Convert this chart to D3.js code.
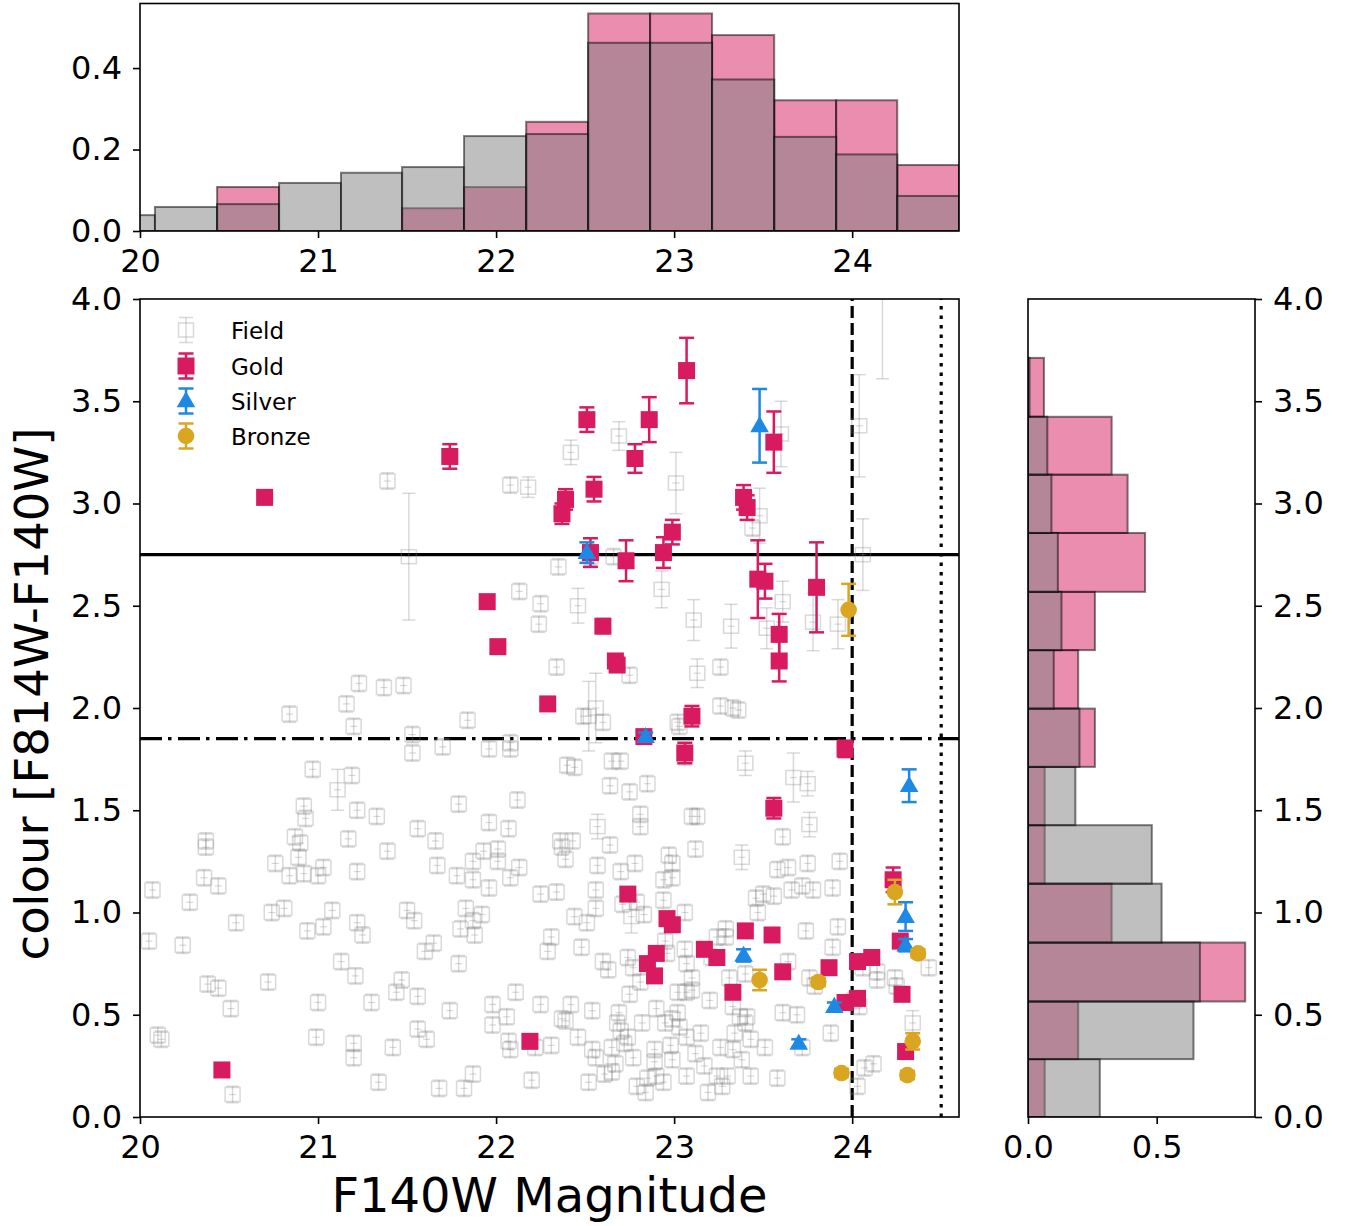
<!DOCTYPE html>
<html><head><meta charset="utf-8">
<script src="https://cdn.jsdelivr.net/npm/d3@7"></script>
<style>body{margin:0;background:#fff}svg{display:block;font-family:"DejaVu Sans",sans-serif}</style>
</head><body><svg id="c" width="1352" height="1226"></svg>
<script>
// ---------- data ----------
const magTicks=[20,21,22,23,24];
const colTicks=[0,0.5,1,1.5,2,2.5,3,3.5,4];
const topHistTicks=[0,0.2,0.4];
const rightHistTicks=[0,0.5];
const legendLabels=["Field","Gold","Silver","Bronze"];
const colourCut=2.75, colourCut2=1.85, magLimit=24.0, magLimit2=24.5;

const magEdges=[19.736,20.084,20.433,20.781,21.129,21.472,21.82,22.169,22.517,22.865,23.213,23.562,23.91,24.253,24.6];
const fieldMagHist=[0.039,0.059,0.066,0.118,0.143,0.157,0.233,0.238,0.462,0.462,0.372,0.231,0.188,0.086];
const goldMagHist=[0,0,0.108,0,0,0.056,0.108,0.268,0.534,0.534,0.481,0.321,0.321,0.162];
const colEdges=[0,0.283,0.565,0.853,1.141,1.427,1.712,1.997,2.283,2.568,2.856,3.141,3.424,3.712];
const fieldColHist=[0.279,0.643,0.668,0.519,0.481,0.184,0.2,0.1,0.13,0.116,0.091,0.075,0.006];
const goldColHist=[0.065,0.195,0.844,0.325,0.065,0.065,0.26,0.195,0.26,0.455,0.387,0.325,0.062];

// [magnitude, colour, colour error]
const fieldPoints=[
[20.84,1.97,0.04],[21.16,2.02,0.04],[21.20,1.91,0.04],[21.84,1.94,0.04],[21.53,1.87,0.04],[21.53,1.78,0.04],[21.70,1.81,0.04],[21.96,1.80,0.04],[22.08,1.80,0.04],[22.08,1.83,0.04],
[20.97,1.70,0.04],[21.11,1.60,0.1],[21.19,1.67,0.04],[20.92,1.52,0.04],[20.93,1.46,0.04],[21.22,1.50,0.04],[21.33,1.47,0.04],[21.56,1.41,0.04],[21.79,1.53,0.04],[22.12,1.55,0.04],[21.96,1.44,0.04],[22.07,1.41,0.04],
[20.37,1.35,0.04],[20.37,1.32,0.04],[20.87,1.37,0.04],[20.90,1.34,0.04],[21.17,1.36,0.04],[21.39,1.30,0.04],[21.66,1.35,0.04],[22.37,1.32,0.04],
[20.89,1.27,0.04],[20.76,1.24,0.04],[20.84,1.18,0.04],[20.92,1.19,0.04],[21.00,1.18,0.04],[21.03,1.22,0.04],[21.22,1.20,0.04],[21.67,1.23,0.04],[21.78,1.18,0.04],[21.87,1.25,0.04],[21.87,1.16,0.04],[21.93,1.30,0.04],[22.01,1.31,0.04],[22.01,1.25,0.04],[22.08,1.17,0.04],[22.13,1.22,0.04],[21.96,1.12,0.04],
[20.36,1.17,0.04],[20.44,1.13,0.04],[20.07,1.11,0.04],[20.28,1.05,0.04],[22.25,1.09,0.04],[22.34,1.10,0.04],
[20.74,1.00,0.04],[20.81,1.02,0.04],[21.08,1.01,0.04],[20.54,0.95,0.04],[20.94,0.91,0.04],[21.03,0.93,0.04],[21.22,0.95,0.04],[21.25,0.89,0.04],[21.50,1.01,0.04],[21.54,0.96,0.04],[21.83,1.02,0.04],[21.92,0.99,0.04],[21.87,0.96,0.04],[21.80,0.92,0.04],[21.88,0.89,0.04],
[20.05,0.86,0.04],[20.24,0.84,0.04],[22.31,0.88,0.04],[22.29,0.81,0.04],[21.13,0.76,0.04],[21.21,0.69,0.04],[21.65,0.85,0.04],[21.60,0.81,0.04],[21.79,0.75,0.04],
[20.38,0.65,0.04],[20.44,0.63,0.04],[20.72,0.66,0.04],[21.47,0.67,0.04],[21.44,0.61,0.04],[21.56,0.59,0.04],[21.00,0.56,0.04],[21.30,0.56,0.04],[21.74,0.52,0.04],[21.98,0.55,0.04],[22.11,0.61,0.04],[22.25,0.55,0.04],[20.51,0.53,0.04],[22.06,0.49,0.04],[21.98,0.45,0.04],[22.37,0.48,0.04],
[20.10,0.40,0.04],[20.12,0.38,0.04],[20.99,0.39,0.04],[21.56,0.43,0.04],[21.61,0.38,0.04],[21.20,0.36,0.04],[21.20,0.29,0.04],[21.42,0.34,0.04],[22.07,0.37,0.04],[22.08,0.33,0.04],[22.31,0.35,0.04],[22.22,0.34,0.04],
[20.52,0.11,0.04],[21.34,0.17,0.04],[21.68,0.14,0.04],[21.82,0.14,0.04],[21.87,0.21,0.04],[22.20,0.18,0.04],
[21.39,3.11,0.04],[22.08,3.09,0.04],[22.18,3.08,0.05],[21.51,2.74,0.31],[22.13,2.57,0.04],[22.25,2.51,0.04],[22.24,2.41,0.04],[22.34,2.20,0.04],[21.37,2.10,0.04],[21.48,2.11,0.04],[21.23,2.12,0.04],
[22.42,3.25,0.06],[22.69,3.33,0.07],[23.01,3.10,0.15],[23.60,3.34,0.16],[24.04,3.38,0.25],[24.17,4.15,0.54],
[22.35,2.69,0.04],[22.46,2.50,0.085],[22.93,2.58,0.09],[22.66,2.74,0.04],[22.53,2.74,0.04],[22.75,2.16,0.04],[22.52,1.96,0.17],[22.56,2.00,0.17],[22.60,1.93,0.04],[23.02,1.93,0.04],[22.49,1.96,0.04],
[23.48,2.94,0.135],[23.44,2.88,0.04],[24.06,2.75,0.175],
[23.11,2.43,0.1],[23.32,2.40,0.107],[23.61,2.52,0.1],[23.78,2.42,0.14],[23.92,2.41,0.12],[23.52,2.39,0.1],[22.60,2.40,0.04],[23.13,2.17,0.07],[23.26,2.20,0.04],[23.26,2.01,0.04],[23.33,2.00,0.04],[23.36,1.99,0.04],[23.03,1.91,0.04],
[22.40,1.72,0.04],[22.44,1.71,0.04],[22.65,1.74,0.04],[22.70,1.74,0.04],[22.64,1.62,0.04],[22.75,1.59,0.04],[22.85,1.63,0.04],[23.06,1.76,0.04],[23.40,1.73,0.06],[23.67,1.66,0.12],[23.75,1.63,0.06],[22.57,1.42,0.06],[22.81,1.48,0.04],[22.81,1.42,0.04],[23.10,1.47,0.04],[23.13,1.47,0.04],[23.76,1.43,0.06],[22.36,1.35,0.04],[22.43,1.35,0.04],[23.61,1.37,0.04],
[22.39,1.26,0.04],[22.64,1.33,0.04],[22.97,1.28,0.04],[22.99,1.24,0.04],[23.12,1.31,0.04],[23.38,1.27,0.06],[22.57,1.23,0.04],[22.70,1.20,0.04],[22.78,1.24,0.04],[22.94,1.16,0.04],[22.99,1.17,0.04],
[22.56,1.11,0.04],[22.71,1.04,0.04],[22.79,1.05,0.04],[22.83,0.99,0.04],[22.94,1.06,0.04],[23.06,1.00,0.04],[22.44,0.98,0.04],[22.51,0.95,0.04],[22.56,1.02,0.04],[22.76,0.98,0.08],
[22.48,0.83,0.04],[22.60,0.76,0.04],[22.63,0.72,0.04],[22.74,0.78,0.04],[22.77,0.73,0.04],[22.95,0.86,0.04],[22.96,0.80,0.04],[23.06,0.82,0.04],[23.07,0.75,0.04],[23.10,0.68,0.04],[23.10,0.62,0.04],[23.02,0.61,0.04],[23.07,0.61,0.04],[23.21,0.78,0.04],[23.29,0.88,0.04],[23.29,0.92,0.04],[23.24,0.88,0.04],[23.31,0.68,0.04],[22.81,0.66,0.04],[22.75,0.60,0.04],
[22.42,0.55,0.04],[22.39,0.47,0.04],[22.54,0.52,0.04],[22.69,0.51,0.04],[22.68,0.46,0.04],[22.82,0.46,0.04],[22.90,0.53,0.04],[22.99,0.48,0.04],[23.02,0.51,0.04],[23.20,0.57,0.04],[23.33,0.54,0.04],[23.37,0.49,0.04],[23.41,0.49,0.04],
[22.70,0.42,0.04],[22.74,0.39,0.04],[22.95,0.46,0.04],[23.03,0.44,0.04],[23.07,0.39,0.04],[23.15,0.41,0.04],[23.34,0.41,0.04],
[22.46,0.39,0.04],[22.54,0.33,0.04],[22.56,0.29,0.04],[22.65,0.34,0.04],[22.67,0.26,0.04],[22.72,0.36,0.04],[22.77,0.29,0.04],[22.89,0.33,0.04],[22.98,0.35,0.04],[22.99,0.28,0.04],[23.12,0.31,0.04],[23.17,0.25,0.04],[23.26,0.34,0.04],[23.33,0.33,0.04],[23.38,0.28,0.04],
[22.52,0.17,0.04],[22.61,0.21,0.04],[22.65,0.22,0.04],[22.79,0.15,0.04],[22.84,0.12,0.04],[22.89,0.27,0.04],[22.90,0.20,0.04],[22.94,0.17,0.04],[23.07,0.20,0.04],[23.19,0.12,0.04],[23.24,0.20,0.04],[23.27,0.15,0.04],[23.30,0.20,0.04],[22.85,0.19,0.04],
[23.58,1.21,0.04],[23.64,1.22,0.04],[23.75,1.24,0.04],[23.93,1.25,0.04],[23.66,1.11,0.04],[23.72,1.13,0.04],[23.78,1.11,0.04],[23.89,1.12,0.04],[23.46,1.07,0.04],[23.50,1.09,0.04],[23.56,1.08,0.04],[23.47,1.00,0.04],[23.74,0.91,0.04],[23.92,0.93,0.04],[23.89,0.83,0.04],[23.64,0.76,0.04],[23.40,0.70,0.04],[23.76,0.68,0.04],[23.79,0.64,0.04],
[24.06,0.73,0.04],[24.14,0.71,0.04],[24.14,0.67,0.04],[24.24,0.68,0.04],[24.25,0.64,0.04],[24.43,0.73,0.04],[24.04,0.54,0.04],[24.01,0.57,0.04],[23.61,0.51,0.04],[23.69,0.50,0.04],[23.40,0.46,0.04],[23.43,0.38,0.04],[23.51,0.34,0.04],[23.88,0.41,0.04],[24.34,0.46,0.06],[23.72,0.34,0.04],[24.07,0.24,0.04],[24.12,0.26,0.04],[24.03,0.15,0.04],[23.43,0.20,0.04],[23.58,0.19,0.04]
];
const fieldMagErr=0.02;

const goldPoints=[
[20.70,3.03,0.02],[21.74,3.23,0.06],[21.95,2.52,0.02],[22.01,2.30,0.02],[22.29,2.02,0.02],[22.19,0.37,0.02],[20.46,0.23,0.02],
[22.37,2.95,0.05],[22.39,3.02,0.05],[22.51,3.41,0.06],[22.55,3.07,0.06],[22.53,2.76,0.07],[22.60,2.40,0.03],[22.67,2.23,0.02],[22.68,2.21,0.02],
[22.78,3.22,0.07],[22.86,3.41,0.11],[22.73,2.72,0.1],[22.94,2.76,0.075],[22.99,2.86,0.06],[23.07,3.65,0.16],[23.10,1.96,0.05],[23.06,1.78,0.05],
[23.39,3.03,0.06],[23.41,2.98,0.06],[23.56,3.30,0.15],[23.47,2.63,0.19],[23.51,2.62,0.085],[23.59,2.36,0.1],[23.59,2.23,0.1],[23.80,2.59,0.22],
[23.96,1.80,0.04],[23.56,1.51,0.05],[24.23,1.16,0.06],[22.74,1.09,0.02],[22.96,0.97,0.02],[22.99,0.94,0.02],[23.40,0.91,0.02],[23.55,0.89,0.02],
[23.17,0.82,0.02],[23.24,0.78,0.03],[22.90,0.80,0.02],[22.85,0.75,0.02],[22.89,0.69,0.02],[23.61,0.71,0.02],[23.33,0.61,0.02],[23.87,0.73,0.02],
[24.03,0.76,0.02],[24.11,0.78,0.02],[23.96,0.56,0.02],[24.03,0.58,0.02],[24.28,0.60,0.02],[24.27,0.86,0.02],[24.30,0.32,0.02],[22.83,1.86,0.02]
];
const silverPoints=[
[22.51,2.76,0.05],[23.48,3.38,0.18],[22.84,1.86,0.02],[24.32,1.62,0.08],[24.30,0.98,0.07],[24.30,0.84,0.03],[23.39,0.79,0.03],[23.90,0.54,0.02],[23.70,0.36,0.02]
];
const bronzePoints=[
[23.98,2.48,0.127],[24.24,1.10,0.06],[23.48,0.67,0.05],[23.81,0.66,0.02],[24.37,0.80,0.02],[24.34,0.37,0.04],[24.31,0.205,0.02],[23.94,0.215,0.02]
];

// ---------- styles ----------
const GOLD="#D81B60", SILVER="#1E88E5", BRONZE="#DAA520", FIELD="#808080";
const FS=32;

const svg=d3.select("#c");
const x=d3.scaleLinear().domain([20,24.6]).range([140,959]);
const y=d3.scaleLinear().domain([0,4]).range([1117,299]);
const yTop=d3.scaleLinear().domain([0,0.5585]).range([231,3.5]);
const xR=d3.scaleLinear().domain([0,0.882]).range([1028,1255]);

const defs=svg.append("defs");
defs.append("clipPath").attr("id","clipMain").append("rect").attr("x",140).attr("y",299).attr("width",819).attr("height",818);
defs.append("clipPath").attr("id","clipTop").append("rect").attr("x",140).attr("y",3.5).attr("width",819).attr("height",227.5);
defs.append("clipPath").attr("id","clipRight").append("rect").attr("x",1028).attr("y",299).attr("width",227).attr("height",818);

function styleAxis(g){
  g.select(".domain").remove();
  g.selectAll(".tick line").attr("stroke","#000").attr("stroke-width",1.6);
  g.selectAll(".tick text").attr("font-size",FS).attr("font-family","DejaVu Sans").attr("fill","#000");
}
function frame(x0,y0,w,h){
  svg.append("rect").attr("x",x0).attr("y",y0).attr("width",w).attr("height",h)
    .attr("fill","none").attr("stroke","#000").attr("stroke-width",1.6);
}

// ---------- top histogram ----------
const gTop=svg.append("g").attr("clip-path","url(#clipTop)");
function histTop(vals,color){
  vals.forEach((v,i)=>{
    if(v<=0) return;
    gTop.append("rect").attr("x",x(magEdges[i])).attr("y",yTop(v))
      .attr("width",x(magEdges[i+1])-x(magEdges[i])).attr("height",yTop(0)-yTop(v))
      .attr("fill",color).attr("fill-opacity",0.5).attr("stroke","#000").attr("stroke-opacity",0.5).attr("stroke-width",2);
  });
}
histTop(goldMagHist,GOLD);
histTop(fieldMagHist,FIELD);
svg.append("g").attr("transform","translate(0,231)")
  .call(d3.axisBottom(x).tickValues(magTicks).tickFormat(d3.format("d")).tickSize(7).tickPadding(11).tickSizeOuter(0)).call(styleAxis);
svg.append("g").attr("transform","translate(140,0)")
  .call(d3.axisLeft(yTop).tickValues(topHistTicks).tickFormat(d3.format(".1f")).tickSize(7).tickPadding(11).tickSizeOuter(0)).call(styleAxis);
frame(140,3.5,819,227.5);

// ---------- right histogram ----------
const gR=svg.append("g").attr("clip-path","url(#clipRight)");
function histRight(vals,color){
  vals.forEach((v,i)=>{
    if(v<=0) return;
    gR.append("rect").attr("x",xR(0)).attr("y",y(colEdges[i+1]))
      .attr("width",xR(v)-xR(0)).attr("height",y(colEdges[i])-y(colEdges[i+1]))
      .attr("fill",color).attr("fill-opacity",0.5).attr("stroke","#000").attr("stroke-opacity",0.5).attr("stroke-width",2);
  });
}
histRight(goldColHist,GOLD);
histRight(fieldColHist,FIELD);
svg.append("g").attr("transform","translate(0,1117)")
  .call(d3.axisBottom(xR).tickValues(rightHistTicks).tickFormat(d3.format(".1f")).tickSize(7).tickPadding(11).tickSizeOuter(0)).call(styleAxis);
svg.append("g").attr("transform","translate(1255,0)")
  .call(d3.axisRight(y).tickValues(colTicks).tickFormat(d3.format(".1f")).tickSize(7).tickPadding(11).tickSizeOuter(0)).call(styleAxis);
frame(1028,299,227,818);

// ---------- main panel ----------
const gM=svg.append("g").attr("clip-path","url(#clipMain)");
gM.append("line").attr("x1",x(20)).attr("x2",x(24.6)).attr("y1",y(colourCut)).attr("y2",y(colourCut))
  .attr("stroke","#000").attr("stroke-width",3.2);
gM.append("line").attr("x1",x(20)).attr("x2",x(24.6)).attr("y1",y(colourCut2)).attr("y2",y(colourCut2))
  .attr("stroke","#000").attr("stroke-width",3.2).attr("stroke-dasharray","22,6,3.5,6.5");
gM.append("line").attr("x1",x(magLimit)).attr("x2",x(magLimit)).attr("y1",y(0)).attr("y2",y(4))
  .attr("stroke","#000").attr("stroke-width",3.2).attr("stroke-dasharray","12,5");
gM.append("line").attr("x1",x(magLimit2)).attr("x2",x(magLimit2)).attr("y1",y(0)).attr("y2",y(4))
  .attr("stroke","#000").attr("stroke-width",3.2).attr("stroke-dasharray","3.5,6");

function errBar(g,cx,c,e,color,cap,sw,op){
  const y1=y(c-e), y2=y(c+e);
  g.append("line").attr("x1",cx).attr("x2",cx).attr("y1",y1).attr("y2",y2).attr("stroke",color).attr("stroke-width",sw).attr("stroke-opacity",op);
  [y1,y2].forEach(yy=>g.append("line").attr("x1",cx-cap).attr("x2",cx+cap).attr("y1",yy).attr("y2",yy).attr("stroke",color).attr("stroke-width",sw).attr("stroke-opacity",op));
}

const gF=gM.append("g");
fieldPoints.forEach(([m,c,e])=>{
  const cx=x(m), cy=y(c);
  errBar(gF,cx,c,e,FIELD,6.5,1.5,0.3);
  gF.append("line").attr("x1",x(m-fieldMagErr)).attr("x2",x(m+fieldMagErr)).attr("y1",cy).attr("y2",cy)
    .attr("stroke",FIELD).attr("stroke-width",1.2).attr("stroke-opacity",0.3);
  gF.append("rect").attr("x",cx-7.5).attr("y",cy-7).attr("width",15).attr("height",14)
    .attr("fill","none").attr("stroke",FIELD).attr("stroke-width",1.5).attr("stroke-opacity",0.3);
});

function drawMarker(g,type,cx,cy,color){
  if(type==="square") g.append("rect").attr("x",cx-8.5).attr("y",cy-8.5).attr("width",17).attr("height",17).attr("fill",color);
  else if(type==="tri") g.append("path").attr("d",d3.symbol(d3.symbolTriangle,150)()).attr("transform",`translate(${cx},${cy+1})`).attr("fill",color);
  else g.append("circle").attr("cx",cx).attr("cy",cy).attr("r",8.3).attr("fill",color);
}
function series(pts,type,color){
  const g=gM.append("g");
  pts.forEach(([m,c,e])=>{
    errBar(g,x(m),c,e,color,7.5,2.5,1);
    drawMarker(g,type,x(m),y(c),color);
  });
}
series(goldPoints,"square",GOLD);
series(silverPoints,"tri",SILVER);
series(bronzePoints,"circle",BRONZE);

svg.append("g").attr("transform","translate(0,1117)")
  .call(d3.axisBottom(x).tickValues(magTicks).tickFormat(d3.format("d")).tickSize(7).tickPadding(11).tickSizeOuter(0)).call(styleAxis);
svg.append("g").attr("transform","translate(140,0)")
  .call(d3.axisLeft(y).tickValues(colTicks).tickFormat(d3.format(".1f")).tickSize(7).tickPadding(11).tickSizeOuter(0)).call(styleAxis);
frame(140,299,819,818);

// legend
const legRows=[330,366,401,436];
const legG=svg.append("g");
legendLabels.forEach((lab,i)=>{
  const cy=legRows[i], cx=186;
  if(i===0){
    legG.append("line").attr("x1",cx).attr("x2",cx).attr("y1",cy-12.5).attr("y2",cy+12.5).attr("stroke",FIELD).attr("stroke-width",1.5).attr("stroke-opacity",0.3);
    [cy-12.5,cy+12.5].forEach(yy=>legG.append("line").attr("x1",cx-7).attr("x2",cx+7).attr("y1",yy).attr("y2",yy).attr("stroke",FIELD).attr("stroke-width",1.5).attr("stroke-opacity",0.3));
    legG.append("rect").attr("x",cx-7.5).attr("y",cy-7).attr("width",15).attr("height",14).attr("fill","none").attr("stroke",FIELD).attr("stroke-width",1.5).attr("stroke-opacity",0.3);
  } else {
    const color=[null,GOLD,SILVER,BRONZE][i];
    legG.append("line").attr("x1",cx).attr("x2",cx).attr("y1",cy-12.5).attr("y2",cy+12.5).attr("stroke",color).attr("stroke-width",2.5);
    [cy-12.5,cy+12.5].forEach(yy=>legG.append("line").attr("x1",cx-7.5).attr("x2",cx+7.5).attr("y1",yy).attr("y2",yy).attr("stroke",color).attr("stroke-width",2.5));
    drawMarker(legG,["","square","tri","circle"][i],cx,cy,color);
  }
  legG.append("text").attr("x",231).attr("y",cy+8.5).attr("font-size",23).attr("fill","#000").text(lab);
});

// axis labels
svg.append("text").attr("x",549.5).attr("y",1212).attr("text-anchor","middle").attr("font-size",48).attr("fill","#000").text("F140W Magnitude");
svg.append("text").attr("transform","translate(48,694) rotate(-90)").attr("text-anchor","middle").attr("font-size",46.5).attr("fill","#000").text("colour [F814W-F140W]");
</script></body></html>
